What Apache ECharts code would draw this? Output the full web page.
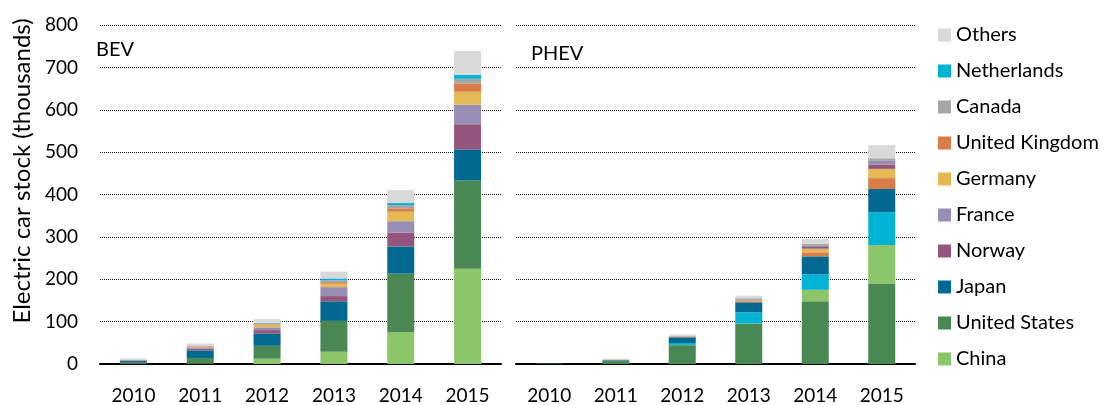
<!DOCTYPE html>
<html>
<head>
<meta charset="utf-8">
<script src="https://cdn.jsdelivr.net/npm/echarts@6/dist/echarts.min.js"></script>
<style>
html,body{margin:0;padding:0;background:#fff;}
#chart{width:1106px;height:405px;}
</style>
</head>
<body>
<div id="chart"></div>
<script>
// ---- data ----
const years = ['2010', '2011', '2012', '2013', '2014', '2015'];
const yTicks = [0, 100, 200, 300, 400, 500, 600, 700, 800];
const legendOrder = ['Others', 'Netherlands', 'Canada', 'United Kingdom', 'Germany', 'France', 'Norway', 'Japan', 'United States', 'China'];

// BEV stock (thousands)
const bevChina       = [1, 1, 12.5, 29, 75, 225];
const bevUS          = [2, 13, 30.5, 72.7, 138.4, 208];
const bevJapan       = [4, 18, 29, 46.2, 64, 73.4];
const bevNorway      = [1.5, 4.5, 8, 12.4, 32.8, 59.4];
const bevFrance      = [0.5, 3, 6.5, 21.1, 26.7, 46.2];
const bevGermany     = [0.5, 2, 6, 8, 22.5, 30.5];
const bevUK          = [0.5, 1, 1.5, 3.8, 8, 19.5];
const bevCanada      = [0.1, 0.5, 2, 4, 7.7, 11];
const bevNetherlands = [0.1, 0.5, 1, 4.7, 4.7, 9.4];
const bevOthers      = [3, 5, 9, 16.4, 30.5, 56.3];

// PHEV stock (thousands)
const phevUS          = [0.4, 7, 44.5, 95, 147.8, 190];
const phevChina       = [0.1, 0.3, 0.5, 0.5, 27.4, 90.8];
const phevNetherlands = [0, 0.3, 4.5, 26.6, 36.6, 77.4];
const phevJapan       = [0.3, 1.5, 13.5, 23.5, 42.2, 54.7];
const phevUK          = [0, 0.5, 1, 2.5, 9.4, 25.8];
const phevGermany     = [0, 0.3, 1, 2, 8.7, 21.8];
const phevNorway      = [0, 0.1, 0.3, 0.5, 4, 10.3];
const phevFrance      = [0, 0.3, 0.5, 0.5, 2.3, 8.4];
const phevCanada      = [0, 0.6, 1, 4, 5.4, 6.3];
const phevOthers      = [0.3, 1.5, 3, 6, 11, 31.2];

const colors = {
  'China': '#8CC66B',
  'United States': '#4A8853',
  'Japan': '#006891',
  'Norway': '#94567C',
  'France': '#988DB4',
  'Germany': '#E4B955',
  'United Kingdom': '#D97C48',
  'Canada': '#A6A6A9',
  'Netherlands': '#00B2D4',
  'Others': '#D9D9D9'
};

const bevSeries = [
  ['China', bevChina], ['United States', bevUS], ['Japan', bevJapan], ['Norway', bevNorway],
  ['France', bevFrance], ['Germany', bevGermany], ['United Kingdom', bevUK], ['Canada', bevCanada],
  ['Netherlands', bevNetherlands], ['Others', bevOthers]
];
const phevSeries = [
  ['United States', phevUS], ['China', phevChina], ['Netherlands', phevNetherlands], ['Japan', phevJapan],
  ['United Kingdom', phevUK], ['Germany', phevGermany], ['Norway', phevNorway], ['France', phevFrance],
  ['Canada', phevCanada], ['Others', phevOthers]
];

const FONT = 'Lato, "Open Sans", sans-serif';

function mkSeries(list, idx, stack) {
  return list.map(([name, data]) => ({
    name: name,
    type: 'bar',
    stack: stack,
    xAxisIndex: idx,
    yAxisIndex: idx,
    barWidth: 27,
    itemStyle: { color: colors[name] },
    emphasis: { disabled: true },
    data: data
  }));
}

function mkX(idx) {
  return {
    type: 'category', gridIndex: idx, data: years,
    axisLine: { lineStyle: { color: '#000', width: 2 } },
    axisTick: { show: false },
    axisLabel: { color: '#000', fontFamily: FONT, fontSize: 19, margin: 22 }
  };
}
function mkY(idx, showLabels) {
  return {
    type: 'value', gridIndex: idx, min: yTicks[0], max: yTicks[yTicks.length - 1], interval: 100,
    axisLine: { show: false },
    axisTick: { show: false },
    axisLabel: { show: showLabels, color: '#000', fontFamily: FONT, fontSize: 19, margin: 22 },
    splitLine: { lineStyle: { color: '#111', width: 1, type: [1, 1] } }
  };
}

const chart = echarts.init(document.getElementById('chart'), null, { renderer: 'canvas' });
chart.setOption({
  animation: false,
  backgroundColor: '#fff',
  grid: [
    { left: 100, right: 1106 - 501, top: 25, bottom: 405 - 366 },
    { left: 516, right: 1106 - 915, top: 25, bottom: 405 - 366 }
  ],
  xAxis: [mkX(0), mkX(1)],
  yAxis: [mkY(0, true), mkY(1, false)],
  legend: {
    orient: 'vertical',
    left: 938, top: 24, padding: 0,
    itemWidth: 13, itemHeight: 13, itemGap: 14,
    icon: 'rect',
    data: legendOrder,
    textStyle: { color: '#000', fontFamily: FONT, fontSize: 20, lineHeight: 22 },
    selectedMode: false
  },
  graphic: [
    { type: 'text', left: 96, top: 40, style: { text: 'BEV', font: '20px ' + FONT, fill: '#000' } },
    { type: 'text', left: 531, top: 44, style: { text: 'PHEV', font: '20px ' + FONT, fill: '#000' } },
    { type: 'text', x: 22, y: 171, rotation: Math.PI / 2,
      style: { text: 'Electric car stock (thousands)', font: '24px ' + FONT, fill: '#000', align: 'center', verticalAlign: 'middle' } }
  ],
  series: mkSeries(bevSeries, 0, 'bev').concat(mkSeries(phevSeries, 1, 'phev'))
});
</script>
</body>
</html>
